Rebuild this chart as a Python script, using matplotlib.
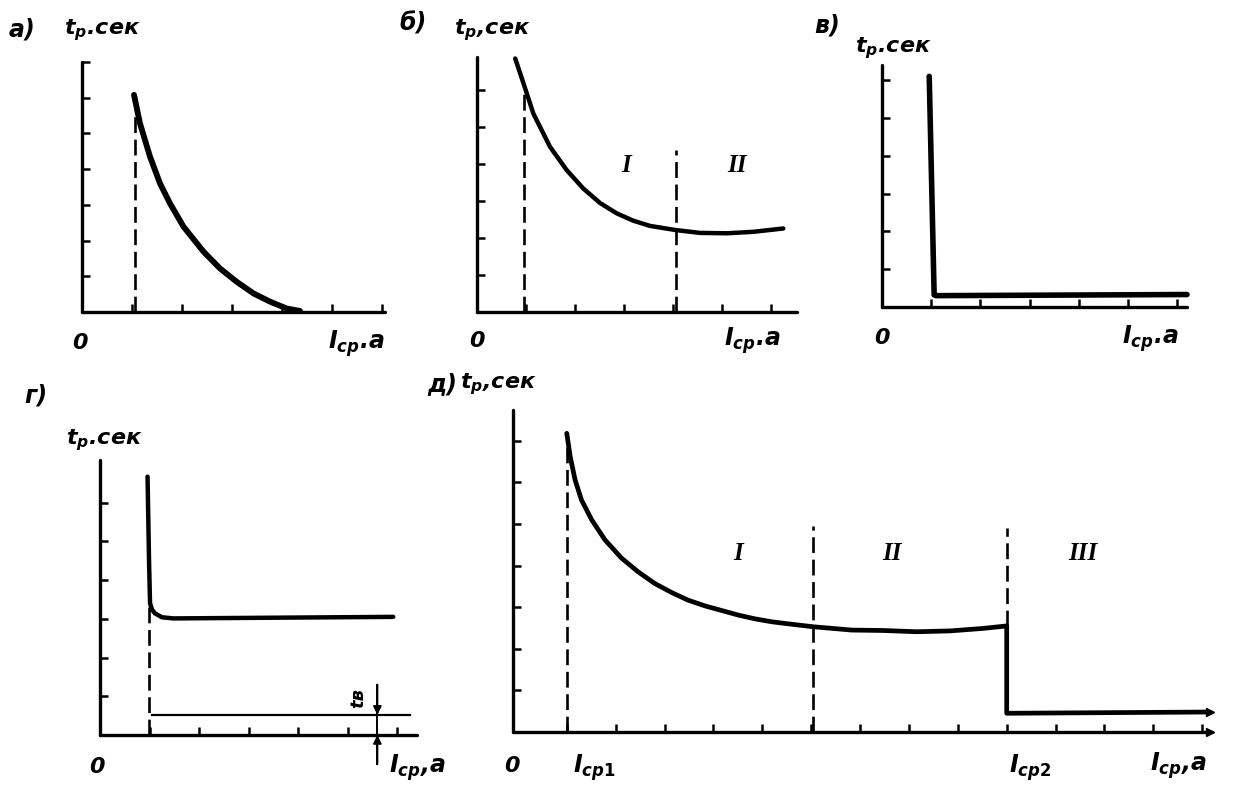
import matplotlib
matplotlib.use('Agg')
import matplotlib.pyplot as plt

plt.rcParams['font.family'] = ['DejaVu Sans']
plt.rcParams['mathtext.fontset'] = 'custom'
plt.rcParams['mathtext.it'] = 'DejaVu Sans:italic:bold'
plt.rcParams['mathtext.rm'] = 'DejaVu Sans:bold'
plt.rcParams['mathtext.bf'] = 'DejaVu Sans:bold'

W, H = 1244, 800

# ---------------- data (arbitrary units) ----------------
# а) inverse-time characteristic
a_I = [1.04, 1.16, 1.36, 1.56, 1.76, 2.03, 2.43, 2.76, 3.09, 3.43, 3.76, 4.09, 4.36]
a_t = [6.08, 5.28, 4.35, 3.6, 3.04, 2.39, 1.69, 1.22, 0.85, 0.52, 0.29, 0.10, 0.03]
a_start = 1.05

# б) dependent characteristic with zones I, II
b_I = [0.78, 0.95, 1.15, 1.49, 1.83, 2.17, 2.51, 2.85, 3.19, 3.53, 4.04, 4.55, 5.1, 5.64, 6.25]
b_t = [6.86, 6.18, 5.37, 4.47, 3.84, 3.34, 2.95, 2.67, 2.47, 2.33, 2.22, 2.14, 2.13, 2.17, 2.26]
b_start = 0.96
b_start_top = 6.15
b_bound = 4.06
b_bound_top = 4.38

# в) instantaneous (independent) characteristic
c_I = [0.96, 1.06, 1.1, 6.2]
c_t = [6.1, 0.32, 0.3, 0.33]

# г) definite-time characteristic
d_I = [0.96, 0.99, 1.01, 1.05, 1.11, 1.25, 1.48, 5.92]
d_t = [6.67, 4.5, 3.4, 3.24, 3.14, 3.04, 3.01, 3.05]
d_start = 0.98
d_inst_I = [1.04, 6.26]
d_inst_t = [0.52, 0.52]
d_arrow_I = 5.6

# д) limited-dependent characteristic with zones I, II, III
e_I = [1.0, 1.07, 1.17, 1.3, 1.51, 1.78, 2.12, 2.46, 2.8, 3.15, 3.48, 3.83, 4.17, 4.51,
       4.85, 5.19, 5.53, 6.04, 6.83, 7.47, 8.16, 8.84, 9.52, 10.0, 10.0, 14.11]
e_t = [7.18, 6.62, 6.06, 5.58, 5.1, 4.62, 4.18, 3.85, 3.57, 3.35, 3.17, 3.03, 2.92, 2.81,
       2.72, 2.65, 2.6, 2.53, 2.45, 2.44, 2.41, 2.43, 2.49, 2.55, 0.45, 0.48]
e_I1 = 1.0
e_bound = 6.03
e_bound_top = 4.95
e_I2 = 10.0
e_I2_top = 4.9

ticks6 = [1, 2, 3, 4, 5, 6]
ticks7 = [1, 2, 3, 4, 5, 6, 7]
ticks14 = list(range(1, 15))

fig = plt.figure(figsize=(W / 100, H / 100), dpi=100)


def make_axes(ox, oy, xr, yt, xlim, ylim, xticks, yticks):
    ax = fig.add_axes([ox / W, 1 - oy / H, (xr - ox) / W, (oy - yt) / H])
    ax.set_xlim(*xlim)
    ax.set_ylim(*ylim)
    for s in ['top', 'right']:
        ax.spines[s].set_visible(False)
    for s in ['left', 'bottom']:
        ax.spines[s].set_linewidth(2.4)
        ax.spines[s].set_capstyle('round')
    ax.set_xticks(xticks)
    ax.set_yticks(yticks)
    ax.tick_params(direction='in', length=6, width=1.8,
                   labelbottom=False, labelleft=False)
    ax.patch.set_alpha(0)
    return ax


def ftxt(x, y, s, size=15, family='DejaVu Sans', **kw):
    fig.text(x / W, 1 - y / H, s, fontsize=size, fontweight='bold',
             style='italic', family=family, ha='center', va='center', **kw)


def roman(ax, x, y, s):
    ax.text(x, y, s, fontsize=18, fontweight='bold', style='italic',
            family='Liberation Serif', ha='center', va='center')


dash = dict(color='k', lw=1.9, linestyle=(0, (6, 2.5)), clip_on=False)
curve = dict(color='k', solid_capstyle='round', solid_joinstyle='round', clip_on=False)

TS = 16   # t label size
XS = 17   # I label size

# ---- а)
ax = make_axes(82, 312, 385, 62, (0, 6.06), (0, 7.0), ticks6, ticks7)
ax.plot(a_I, a_t, lw=4.2, **curve)
ax.plot([a_start, a_start], [0, a_t[0]], **dash)
ftxt(22, 30, 'а)', 17)
ftxt(102, 30, '$t_{р}$.сек', TS)
ftxt(80, 343, '0', 16)
ftxt(356, 344, '$I_{ср}$.а', XS)

# ---- б)
ax = make_axes(477, 312, 797, 57, (0, 6.53), (0, 6.9), ticks6, ticks6)
ax.plot(b_I, b_t, lw=3.2, **curve)
ax.plot([b_start, b_start], [0, b_start_top], **dash)
ax.plot([b_bound, b_bound], [0, b_bound_top], **dash)
roman(ax, 3.05, 3.97, 'I')
roman(ax, 5.3, 3.97, 'II')
ftxt(413, 24, 'б)', 17)
ftxt(492, 30, '$t_{р}$,сек', TS)
ftxt(477, 341, '0', 16)
ftxt(752, 341, '$I_{ср}$.а', XS)

# ---- в)
ax = make_axes(882, 307, 1187, 65, (0, 6.2), (0, 6.4), ticks6, ticks6)
ax.plot(c_I, c_t, lw=4.0, **curve)
ftxt(827, 26, 'в)', 17)
ftxt(893, 48, '$t_{р}$.сек', TS)
ftxt(882, 338, '0', 16)
ftxt(1150, 339, '$I_{ср}$.а', XS)

# ---- г)
ax = make_axes(100, 735, 417, 460, (0, 6.4), (0, 7.1), ticks6, ticks6)
ax.plot(d_I, d_t, lw=3.2, **curve)
ax.plot([d_start, d_start], [0, d_t[2]], **dash)
ax.plot(d_inst_I, d_inst_t, color='k', lw=1.6, clip_on=False)
ax.plot([d_arrow_I, d_arrow_I], [1.3, -0.75], color='k', lw=1.4, clip_on=False)
ax.annotate('', xy=(d_arrow_I, d_inst_t[0]), xytext=(d_arrow_I, 1.3),
            arrowprops=dict(arrowstyle='-|>', color='k', lw=1.4,
                            mutation_scale=12, shrinkA=0, shrinkB=0),
            annotation_clip=False)
ax.annotate('', xy=(d_arrow_I, 0), xytext=(d_arrow_I, -0.75),
            arrowprops=dict(arrowstyle='-|>', color='k', lw=1.4,
                            mutation_scale=12, shrinkA=0, shrinkB=0),
            annotation_clip=False)
ax.text(5.22, 0.95, 'tв', fontsize=13, fontweight='bold', style='italic',
        rotation=90, ha='center', va='center')
ftxt(36, 395, 'г)', 17)
ftxt(104, 440, '$t_{р}$.сек', TS)
ftxt(97, 767, '0', 16)
ftxt(417, 768, '$I_{ср}$,а', XS)

# ---- д)
ax = make_axes(513, 732, 1212, 410, (-0.1, 14.2), (0, 7.74), ticks14, ticks7)
ax.plot(e_I, e_t, lw=3.4, **curve)
ax.plot([e_I1, e_I1], [0, e_t[0]], **dash)
ax.plot([e_bound, e_bound], [0, e_bound_top], **dash)
ax.plot([e_I2, e_I2], [e_t[23], e_I2_top], **dash)
ax.plot([14.15], [e_t[-1]], marker='>', color='k', ms=6, clip_on=False)
ax.plot([14.15], [0], marker='>', color='k', ms=6, clip_on=False)
roman(ax, 4.5, 4.3, 'I')
roman(ax, 7.65, 4.3, 'II')
roman(ax, 11.56, 4.3, 'III')
ftxt(442, 384, 'д)', 17)
ftxt(498, 384, '$t_{р}$,сек', TS)
ftxt(512, 766, '0', 16)
ftxt(594, 768, '$I_{ср1}$', XS)
ftxt(1030, 768, '$I_{ср2}$', XS)
ftxt(1178, 766, '$I_{ср}$,а', XS)

fig.savefig('out.png', dpi=100)
